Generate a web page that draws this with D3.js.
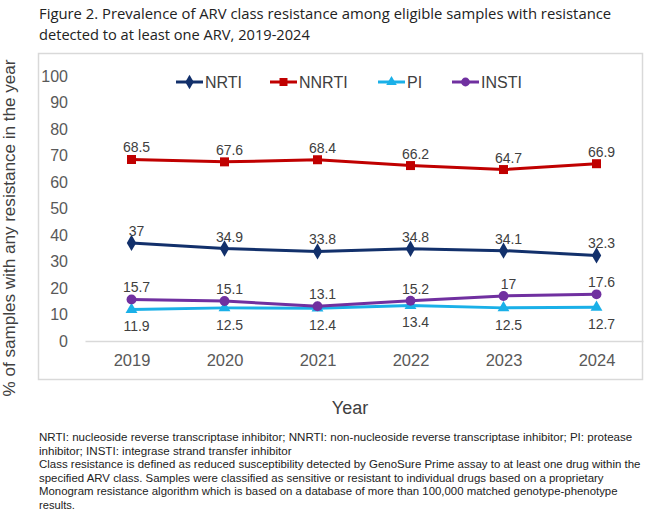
<!DOCTYPE html>
<html><head><meta charset="utf-8">
<script src="https://cdn.jsdelivr.net/npm/d3@7"></script>
<style>body{margin:0;background:#fff}svg{display:block}</style>
</head><body>
<svg id="c" width="647" height="512"></svg>
<script>
const years = ["2019","2020","2021","2022","2023","2024"];
const seriesNames = ["NRTI","NNRTI","PI","INSTI"];
const nrti  = [37, 34.9, 33.8, 34.8, 34.1, 32.3];
const nnrti = [68.5, 67.6, 68.4, 66.2, 64.7, 66.9];
const pi    = [11.9, 12.5, 12.4, 13.4, 12.5, 12.7];
const insti = [15.7, 15.1, 13.1, 15.2, 17, 17.6];
const yTicks = [0,10,20,30,40,50,60,70,80,90,100];
const titleLines = ["Figure 2. Prevalence of ARV class resistance among eligible samples with resistance",
                    "detected to at least one ARV, 2019-2024"];
const noteLines = ["NRTI: nucleoside reverse transcriptase inhibitor; NNRTI: non-nucleoside reverse transcriptase inhibitor; PI: protease",
  "inhibitor; INSTI: integrase strand transfer inhibitor",
  "Class resistance is defined as reduced susceptibility detected by GenoSure Prime assay to at least one drug within the",
  "specified ARV class. Samples were classified as sensitive or resistant to individual drugs based on a proprietary",
  "Monogram resistance algorithm which is based on a database of more than 100,000 matched genotype-phenotype",
  "results."];

const series = [
  {name:"NRTI", values:nrti, color:"#12306b", marker:"diamond", labelPos:"above"},
  {name:"NNRTI", values:nnrti, color:"#c00000", marker:"square", labelPos:"above"},
  {name:"PI", values:pi, color:"#1ab0e8", marker:"triangle", labelPos:"below"},
  {name:"INSTI", values:insti, color:"#7030a0", marker:"circle", labelPos:"above"}
];

const svg = d3.select("#c");
const titleFont = "'Open Sans', 'Noto Sans', sans-serif";
const noteFont = "'Liberation Sans', Arial, sans-serif";
const chartFont = "'Liberation Sans', Arial, sans-serif";

// fit a text line horizontally to a target width by scaling
function fitText(x0, y0, str, size, width, fill, font){
  const g = svg.append("g").attr("transform",`translate(${x0},${y0})`);
  const t = g.append("text").attr("x",0).attr("y",0).text(str)
    .attr("font-family",font).attr("font-size",size).attr("fill",fill);
  const w = t.node().getComputedTextLength();
  const k = Math.min(1.05, width / w);
  t.attr("transform",`scale(${k},1)`);
}

// title
const titleW = [573, 271];
titleLines.forEach((t,i)=> fitText(39, 19+i*21, t, 15, titleW[i], "#222", titleFont));

// chart box
svg.append("rect").attr("x",38.5).attr("y",53.5).attr("width",604).attr("height",326)
  .attr("fill","#fff").attr("stroke","#d9d9d9").attr("stroke-width",1.5);

const x = d3.scalePoint().domain(years).range([85,643]).padding(0.5);
const y = d3.scaleLinear().domain([0,100]).range([341,76]);

// y axis
const ya = svg.append("g").attr("transform","translate(85,0)")
  .call(d3.axisLeft(y).tickValues(yTicks).tickSize(0).tickPadding(17));
ya.select(".domain").remove();
ya.selectAll("text").attr("font-family",chartFont).attr("font-size",16).attr("fill","#595959");

// x axis
const xa = svg.append("g").attr("transform","translate(0,341)")
  .call(d3.axisBottom(x).tickSize(0).tickPadding(13));
xa.select(".domain").attr("stroke","#d9d9d9").attr("stroke-width",1.5);
xa.selectAll("text").attr("font-family",chartFont).attr("font-size",16.5).attr("fill","#595959");

// axis titles
svg.append("text").attr("x",350).attr("y",414).attr("text-anchor","middle")
  .attr("font-family",chartFont).attr("font-size",18).attr("fill","#404040").text("Year");
svg.append("text").attr("transform","translate(15,228) rotate(-90)").attr("text-anchor","middle")
  .attr("font-family",chartFont).attr("font-size",17).attr("fill","#404040")
  .attr("textLength",337).attr("lengthAdjust","spacingAndGlyphs")
  .text("% of samples with any resistance in the year");

// markers
function drawMarker(g, type, color, size){
  if(type==="circle") return g.append("circle").attr("r",size*0.55).attr("fill",color);
  const sym = {diamond:d3.symbolDiamond, square:d3.symbolSquare, triangle:d3.symbolTriangle}[type];
  const area = {diamond:size*size*0.95, square:size*size, triangle:size*size*0.75}[type];
  return g.append("path").attr("d",d3.symbol(sym,area)()).attr("fill",color);
}

const line = d3.line().x((d,i)=>x(years[i])).y(d=>y(d));
series.forEach(s=>{
  svg.append("path").datum(s.values).attr("d",line).attr("fill","none")
    .attr("stroke",s.color).attr("stroke-width",3).attr("stroke-linejoin","round");
});
series.forEach(s=>{
  s.values.forEach((v,i)=>{
    const g = svg.append("g").attr("transform",`translate(${x(years[i])},${y(v)})`);
    drawMarker(g, s.marker, s.color, 9);
  });
});
// data labels
series.forEach(s=>{
  s.values.forEach((v,i)=>{
    svg.append("text").attr("x",x(years[i])+5)
      .attr("y", s.labelPos==="above" ? y(v)-7 : y(v)+22)
      .attr("text-anchor","middle").attr("font-family",chartFont).attr("font-size",14)
      .attr("fill","#404040").text(v);
  });
});

// legend
const legX = [176, 270, 378, 452];
series.forEach((s,i)=>{
  const g = svg.append("g").attr("transform",`translate(${legX[i]},82)`);
  g.append("line").attr("x1",0).attr("x2",27).attr("stroke",s.color).attr("stroke-width",3);
  const m = g.append("g").attr("transform","translate(13.5,0)");
  drawMarker(m, s.marker, s.color, 8);
  g.append("text").attr("x",29).attr("y",6).attr("font-family",chartFont).attr("font-size",16)
    .attr("fill","#404040").text(s.name);
});

// footnote
const noteW = [594, 253, 602, 565, 579, 36];
noteLines.forEach((t,i)=> fitText(39, 441+i*13.5, t, 11.3, noteW[i], "#222", noteFont));
</script>
</body></html>
